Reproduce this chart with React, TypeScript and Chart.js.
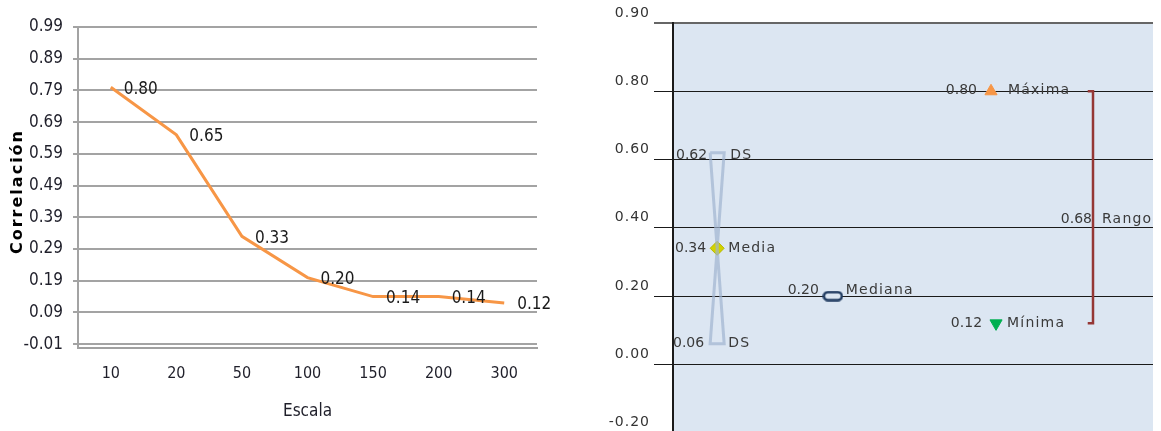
import React, { useEffect, useRef } from 'react';
import { Chart, registerables } from 'chart.js';

Chart.register(...registerables);

// ---------------- Left chart data ----------------
const scaleCategories = ['10', '20', '50', '100', '150', '200', '300'];
const correlationValues = [0.8, 0.65, 0.33, 0.2, 0.14, 0.14, 0.12];
const leftTickValues = [-0.01, 0.09, 0.19, 0.29, 0.39, 0.49, 0.59, 0.69, 0.79, 0.89, 0.99];
const leftYTitle = 'Correlación';
const leftXTitle = 'Escala';

// ---------------- Right chart data ----------------
const statNames = ['DS', 'Media', 'DS', 'Mediana', 'Máxima', 'Mínima', 'Rango'];
const statValues = [0.62, 0.34, 0.06, 0.2, 0.8, 0.12, 0.68];
const rightTickValues = [-0.2, 0, 0.2, 0.4, 0.6, 0.8, 1.0];
const rightTickLabels = ['-0.20', '0.00', '0.20', '0.40', '0.60', '0.80', '0.90'];

const [dsHi, meanV, dsLo, medV, maxV, minV, rangeV] = statValues;

// ---------------- Layout / style constants ----------------
const NARROW = "'Liberation Sans Narrow', 'DejaVu Sans Condensed', 'Liberation Sans', sans-serif";
const SANS = "'DejaVu Sans', 'Open Sans', sans-serif";
const SLOT: Record<string, number> = { stats: 0.092, median: 0.333, max: 0.6625, min: 0.673, range: 0.875 };
const HOUR_HALF = 0.0146;
const BRACKET_TICK = 0.011;
const labelLayout = [
  { slot: 'stats', idx: 0, gapL: 10, gapR: 13, dy: 3 },
  { slot: 'stats', idx: 1, gapL: 11, gapR: 11, dy: 0 },
  { slot: 'stats', idx: 2, gapL: 13, gapR: 11, dy: 0 },
  { slot: 'median', idx: 3, gapL: 14, gapR: 13, dy: -6 },
  { slot: 'max', idx: 4, gapL: 14, gapR: 17, dy: -1 },
  { slot: 'min', idx: 5, gapL: 14, gapR: 11, dy: 0 },
];

const leftLabelPlugin = {
  id: 'leftLabels',
  afterDatasetsDraw(chart: any) {
    const ctx = chart.ctx;
    const meta = chart.getDatasetMeta(0);
    ctx.save();
    ctx.font = `17px ${NARROW}`;
    ctx.fillStyle = '#1a1a1a';
    ctx.textAlign = 'left';
    ctx.textBaseline = 'middle';
    meta.data.forEach((pt: any, i: number) => {
      ctx.fillText(correlationValues[i].toFixed(2), pt.x + 13, pt.y + 2);
    });
    // y-axis title (letter-spaced, bold)
    const a = chart.chartArea;
    ctx.translate(18, (a.top + a.bottom) / 2 + 4);
    ctx.rotate(-Math.PI / 2);
    ctx.font = `bold 16px ${SANS}`;
    ctx.letterSpacing = '2px';
    ctx.fillStyle = '#000';
    ctx.textAlign = 'center';
    ctx.fillText(leftYTitle, 0, 0);
    ctx.restore();
  },
};

const bgPlugin = {
  id: 'plotBg',
  beforeDraw(chart: any) {
    const { ctx, chartArea: a } = chart;
    ctx.save();
    ctx.fillStyle = '#DCE6F2';
    ctx.fillRect(a.left, a.top, a.right - a.left, a.bottom - a.top);
    ctx.restore();
    ctx.letterSpacing = '1px';
  },
};

const rightLabelPlugin = {
  id: 'rightLabels',
  afterDatasetsDraw(chart: any) {
    const ctx = chart.ctx;
    const xS = chart.scales.x;
    const yS = chart.scales.y;
    ctx.save();
    ctx.font = `14px ${SANS}`;
    ctx.fillStyle = '#3A3A3A';
    ctx.textBaseline = 'middle';
    labelLayout.forEach((l) => {
      const px = xS.getPixelForValue(SLOT[l.slot]);
      const py = yS.getPixelForValue(statValues[l.idx]) + l.dy;
      ctx.letterSpacing = '0px';
      ctx.textAlign = 'right';
      ctx.fillText(statValues[l.idx].toFixed(2), px - l.gapL, py);
      ctx.letterSpacing = '1.2px';
      ctx.textAlign = 'left';
      ctx.fillText(statNames[l.idx], px + l.gapR, py);
    });
    const rx = xS.getPixelForValue(SLOT.range);
    const ry = yS.getPixelForValue((maxV + minV) / 2) + 12;
    ctx.letterSpacing = '0px';
    ctx.textAlign = 'right';
    ctx.fillText(rangeV.toFixed(2), rx - 1, ry);
    ctx.letterSpacing = '1.2px';
    ctx.textAlign = 'left';
    ctx.fillText(statNames[6], rx + 9, ry);
    ctx.restore();
  },
};

function makeMedianMarker() {
  const c = document.createElement('canvas');
  c.width = 21;
  c.height = 11;
  const g = c.getContext('2d')!;
  g.lineWidth = 2.5;
  g.strokeStyle = '#1F3A60';
  g.fillStyle = '#DCE6F2';
  g.beginPath();
  (g as any).roundRect(1.5, 1.5, 18, 8, 4);
  g.fill();
  g.stroke();
  return c;
}

export default function App() {
  const leftRef = useRef<HTMLCanvasElement>(null);
  const rightRef = useRef<HTMLCanvasElement>(null);

  useEffect(() => {
    const left = new Chart(leftRef.current as HTMLCanvasElement, {
      type: 'line',
      data: {
        labels: scaleCategories,
        datasets: [
          {
            data: correlationValues,
            borderColor: '#F79646',
            borderWidth: 3,
            pointRadius: 0,
            tension: 0,
            fill: false,
          },
        ],
      },
      options: {
        animation: false,
        responsive: false,
        layout: { padding: { top: 27, right: 23, left: 0, bottom: 0 } },
        plugins: { legend: { display: false }, tooltip: { enabled: false } },
        scales: {
          x: {
            offset: true,
            grid: { display: false, drawTicks: false },
            border: { display: true, color: '#A0A0A0', width: 2 },
            ticks: { color: '#1F1F2A', font: { family: NARROW, size: 16 }, padding: 16 },
            title: {
              display: true,
              text: leftXTitle,
              color: '#1F1F2A',
              font: { family: NARROW, size: 17 },
              padding: { top: 0, bottom: 9 },
            },
            afterFit: (s: any) => {
              s.height = 83;
            },
          },
          y: {
            min: -0.022,
            max: 0.99,
            afterBuildTicks: (s: any) => {
              s.ticks = leftTickValues.map((v) => ({ value: v }));
            },
            afterFit: (s: any) => {
              s.width = 78;
            },
            ticks: {
              callback: (v: any) => Number(v).toFixed(2),
              color: '#1F1F2A',
              font: { family: NARROW, size: 17 },
              padding: 10,
            },
            grid: { color: '#A3A3A3', lineWidth: 2, tickLength: 5 },
            border: { display: true, color: '#A3A3A3', width: 2 },
          },
        },
      } as any,
      plugins: [leftLabelPlugin],
    });

    const medianMarker = makeMedianMarker();
    const hourglass = [
      { x: SLOT.stats - HOUR_HALF, y: dsHi },
      { x: SLOT.stats + HOUR_HALF, y: dsHi },
      { x: SLOT.stats, y: meanV },
      { x: SLOT.stats + HOUR_HALF, y: dsLo },
      { x: SLOT.stats - HOUR_HALF, y: dsLo },
      { x: SLOT.stats, y: meanV },
      { x: SLOT.stats - HOUR_HALF, y: dsHi },
    ];
    const bracket = [
      { x: SLOT.range - BRACKET_TICK, y: maxV },
      { x: SLOT.range, y: maxV },
      { x: SLOT.range, y: minV },
      { x: SLOT.range - BRACKET_TICK, y: minV },
    ];

    const right = new Chart(rightRef.current as HTMLCanvasElement, {
      type: 'scatter',
      data: {
        datasets: [
          {
            data: hourglass,
            showLine: true,
            borderColor: 'rgba(160,180,208,0.7)',
            borderWidth: 3,
            pointRadius: 0,
          },
          {
            data: [{ x: SLOT.stats, y: meanV }],
            pointStyle: 'rectRot',
            pointRadius: 7,
            backgroundColor: '#D2D200',
            borderColor: '#B8B800',
            borderWidth: 1,
          },
          {
            data: [{ x: SLOT.median, y: medV }],
            pointStyle: medianMarker,
            pointRadius: 6,
          },
          {
            data: [{ x: SLOT.max, y: maxV }],
            pointStyle: 'triangle',
            pointRadius: 7,
            backgroundColor: '#F79646',
            borderColor: '#F79646',
            borderWidth: 1,
          },
          {
            data: [{ x: SLOT.min, y: minV }],
            pointStyle: 'triangle',
            pointRotation: 180,
            pointRadius: 7,
            backgroundColor: '#00B050',
            borderColor: '#00B050',
            borderWidth: 1,
          },
          {
            data: bracket,
            showLine: true,
            borderColor: '#953735',
            borderWidth: 2.5,
            pointRadius: 0,
          },
        ],
      },
      options: {
        animation: false,
        responsive: false,
        layout: { padding: { top: 23, right: 8, bottom: 10, left: 0 } },
        plugins: { legend: { display: false }, tooltip: { enabled: false } },
        scales: {
          x: { type: 'linear', min: 0, max: 1, display: false },
          y: {
            min: -0.2,
            max: 1.0,
            afterBuildTicks: (s: any) => {
              s.ticks = rightTickValues.map((v) => ({ value: v }));
            },
            afterFit: (s: any) => {
              s.width = 83;
            },
            ticks: {
              callback: (_v: any, i: number) => rightTickLabels[i],
              labelOffset: -10,
              padding: 4,
              color: '#333333',
              font: { family: SANS, size: 14 },
            },
            grid: {
              color: (c: any) => (c.tick && c.tick.value === 1 ? '#666666' : '#1A1A1A'),
              lineWidth: (c: any) => (c.tick && c.tick.value === 1 ? 2 : 1),
              tickLength: 19,
            },
            border: { display: true, color: '#1A1A1A', width: 2 },
          },
        },
      } as any,
      plugins: [bgPlugin, rightLabelPlugin],
    });

    return () => {
      left.destroy();
      right.destroy();
    };
  }, []);

  return (
    <div
      style={{
        position: 'absolute',
        left: 0,
        top: 0,
        width: 1161,
        height: 431,
        overflow: 'hidden',
        background: '#fff',
      }}
    >
      <canvas ref={leftRef} width={560} height={431} style={{ position: 'absolute', left: 0, top: 0 }} />
      <canvas ref={rightRef} width={571} height={445} style={{ position: 'absolute', left: 590, top: 0 }} />
    </div>
  );
}
